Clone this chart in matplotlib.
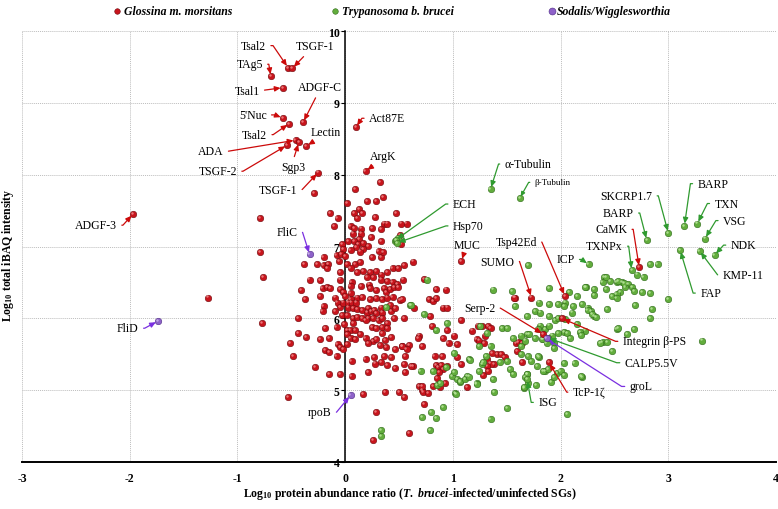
import math
import matplotlib
matplotlib.use("Agg")
import matplotlib.pyplot as plt
from matplotlib.lines import Line2D
from matplotlib.transforms import ScaledTranslation

plt.rcParams['font.family'] = ['Liberation Serif', 'DejaVu Serif']
plt.rcParams['axes.unicode_minus'] = False
plt.rcParams['mathtext.fontset'] = 'custom'
plt.rcParams['mathtext.rm'] = 'Liberation Serif:bold'
plt.rcParams['mathtext.it'] = 'Liberation Serif:italic:bold'
plt.rcParams['mathtext.bf'] = 'Liberation Serif:bold'

# Glossina m. morsitans proteins (log10 ratio, log10 iBAQ)
gm_pts = [
    (-0.29, 7.75), (-0.79, 7.40), (-0.79, 6.92), (0.09, 7.80), (0.32, 7.90), (0.02, 7.61),
    (0.35, 7.69), (0.20, 7.63), (0.29, 7.63), (-0.14, 7.46), (-0.07, 7.40), (0.13, 7.52),
    (0.08, 7.46), (0.16, 7.46), (0.11, 7.39), (0.28, 7.41), (0.47, 7.47), (0.36, 7.32),
    (0.39, 7.32), (0.52, 7.32), (0.57, 7.32), (-0.10, 7.28), (0.05, 7.29), (0.08, 7.26),
    (0.15, 7.25), (0.25, 7.26), (0.33, 7.24), (0.07, 7.18), (0.15, 7.18), (0.24, 7.13),
    (0.33, 7.08), (0.51, 7.16), (0.13, 7.10), (-0.03, 7.04), (0.03, 7.07), (0.08, 7.07),
    (0.12, 7.03), (0.17, 7.05), (0.21, 7.01), (0.10, 6.99), (0.17, 6.96), (0.05, 6.95),
    (0.14, 6.93), (-0.02, 6.96), (-0.08, 6.88), (-0.04, 6.90), (0.00, 6.87), (-0.06, 6.80),
    (-0.20, 6.85), (-0.38, 6.76), (-0.26, 6.75), (-0.20, 6.74), (-0.16, 6.75), (-0.17, 6.70),
    (-0.33, 6.54), (-0.23, 6.53), (-0.05, 6.64), (-0.05, 6.54), (0.02, 6.76), (0.09, 6.75),
    (0.14, 6.78), (0.05, 6.70), (0.11, 6.64), (0.17, 6.66), (0.23, 6.65), (0.29, 6.66),
    (0.33, 6.61), (0.39, 6.64), (0.44, 6.70), (0.49, 6.70), (0.25, 6.85), (0.33, 6.85),
    (0.35, 6.92), (0.31, 6.94), (0.20, 6.58), (0.26, 6.57), (0.33, 6.54), (0.39, 6.52),
    (0.44, 6.51), (0.48, 6.48), (0.06, 6.51), (0.05, 6.45), (0.15, 6.45), (0.22, 6.47),
    (-0.41, 6.39), (-0.37, 6.27), (-0.21, 6.42), (-0.17, 6.43), (-0.14, 6.42), (-0.05, 6.41),
    (-0.02, 6.36), (0.05, 6.35), (0.23, 6.42), (0.29, 6.39), (0.36, 6.42), (0.38, 6.37),
    (0.42, 6.41), (0.45, 6.44), (0.49, 6.44), (-0.23, 6.31), (-0.09, 6.29), (0.00, 6.31),
    (0.05, 6.27), (0.11, 6.29), (0.16, 6.30), (0.23, 6.27), (0.29, 6.28), (0.34, 6.27),
    (0.39, 6.29), (0.44, 6.30), (0.51, 6.25), (-0.20, 6.17), (-0.07, 6.22), (-0.05, 6.16),
    (-0.02, 6.22), (0.03, 6.22), (0.06, 6.22), (0.10, 6.22), (0.03, 6.15), (0.07, 6.14),
    (0.11, 6.13), (0.16, 6.11), (0.21, 6.14), (0.20, 6.08), (0.24, 6.10), (0.27, 6.11),
    (0.29, 6.07), (0.33, 6.15), (0.34, 6.08), (0.42, 6.19), (0.43, 6.10), (0.46, 6.14),
    (-0.21, 6.10), (-0.09, 6.10), (-0.03, 6.05), (0.02, 6.04), (0.07, 6.01), (0.11, 6.02),
    (0.16, 6.01), (0.21, 6.01), (0.26, 6.00), (0.19, 5.98), (0.31, 5.97), (0.34, 6.01),
    (0.39, 5.93), (0.45, 6.01), (0.55, 6.01), (-0.44, 6.01), (-0.19, 5.87), (-0.08, 5.88),
    (-0.01, 5.92), (0.02, 5.84), (0.05, 5.84), (0.09, 5.84), (0.07, 5.93), (0.25, 5.88),
    (0.29, 5.87), (0.34, 5.88), (0.39, 5.87), (0.34, 5.79), (-0.44, 5.80), (-0.36, 5.74),
    (-0.23, 5.71), (-0.15, 5.73), (0.02, 5.78), (0.14, 5.78), (0.05, 5.73), (0.09, 5.71),
    (0.19, 5.73), (0.26, 5.68), (0.29, 5.71), (0.43, 5.74), (0.37, 5.70), (-0.51, 5.65),
    (-0.07, 5.64), (-0.05, 5.60), (-0.02, 5.57), (0.02, 5.64), (0.21, 5.65), (0.32, 5.63),
    (0.38, 5.60), (0.46, 5.57), (0.53, 5.62), (0.59, 5.63), (-0.19, 5.56), (-0.15, 5.53),
    (-0.08, 5.48), (-0.48, 5.48), (0.06, 5.41), (0.19, 5.43), (0.27, 5.46), (0.36, 5.47),
    (0.43, 5.46), (0.28, 5.37), (0.33, 5.39), (0.39, 5.35), (0.46, 5.31), (0.55, 5.36),
    (-0.28, 5.32), (-0.15, 5.23), (-0.05, 5.23), (0.06, 5.20), (0.21, 5.25), (0.56, 5.25),
    (-1.27, 6.29), (-0.76, 6.58), (-0.77, 5.94), (-0.53, 4.91), (0.17, 4.95), (0.37, 4.97),
    (0.50, 4.97), (0.55, 4.91), (0.29, 4.69), (0.26, 4.30), (0.59, 4.40), (0.73, 4.81),
    (0.69, 5.06), (0.71, 5.00), (0.72, 4.97), (0.77, 4.96), (0.93, 5.10), (1.13, 5.04),
    (1.28, 5.21), (0.52, 7.03), (0.63, 6.79), (0.54, 6.54), (0.73, 6.55), (0.84, 6.41),
    (0.94, 6.40), (0.78, 6.27), (0.82, 6.24), (0.91, 6.15), (0.95, 6.15), (0.79, 6.03),
    (1.08, 5.97), (0.81, 5.89), (0.95, 5.84), (1.01, 5.76), (0.91, 5.73), (0.96, 5.66),
    (1.04, 5.64), (0.69, 5.76), (0.68, 5.72), (0.71, 5.62), (0.83, 5.47), (0.90, 5.48),
    (1.04, 5.46), (0.95, 5.34), (0.84, 5.35), (0.86, 5.32), (0.89, 5.35), (0.91, 5.29),
    (0.63, 5.34), (1.08, 5.36), (1.22, 5.71), (1.18, 5.83), (1.30, 5.76), (1.33, 5.89),
    (1.38, 5.36), (0.55, 6.74), (0.53, 6.27), (0.84, 6.28), (0.64, 6.15), (1.58, 6.29),
    (1.23, 5.90), (1.59, 5.66), (0.57, 5.57), (0.53, 5.61), (1.41, 5.50), (0.56, 5.48),
    (1.32, 5.43), (0.61, 5.34), (1.35, 5.37), (1.64, 5.39), (0.85, 5.17), (0.88, 5.04),
    (0.82, 5.06), (0.71, 5.06), (0.87, 5.25), (1.27, 5.90), (1.35, 5.87), (1.24, 5.69),
    (1.29, 5.66), (1.36, 5.52), (1.32, 5.34), (1.33, 5.27), (1.45, 5.50), (1.48, 5.46),
    (1.61, 5.67), (1.60, 5.55), (1.57, 6.29), (1.64, 5.66),
]

# Trypanosoma b. brucei proteins
tb_pts = [
    (0.38, 6.16), (0.60, 6.19), (0.33, 4.45), (0.33, 4.36), (0.71, 4.62), (0.84, 4.61),
    (0.80, 4.70), (0.79, 4.44), (0.91, 4.76), (0.70, 5.27), (0.82, 5.27), (0.85, 5.07),
    (0.88, 5.10), (1.02, 4.96), (1.35, 4.60), (1.38, 4.97), (1.22, 5.10), (0.76, 6.54),
    (1.37, 6.40), (0.73, 6.06), (0.95, 5.94), (0.84, 5.84), (1.01, 5.52), (0.94, 5.32),
    (1.15, 5.43), (1.25, 5.89), (1.32, 5.80), (1.24, 5.62), (1.31, 5.48), (1.35, 5.61),
    (1.27, 5.36), (1.37, 5.15), (1.13, 5.20), (1.07, 5.11), (1.04, 5.15), (0.99, 5.20),
    (1.55, 6.38), (1.58, 6.17), (1.46, 5.86), (1.50, 5.87), (1.56, 5.73), (1.63, 5.62),
    (1.67, 5.69), (1.69, 5.78), (0.61, 6.18), (1.16, 5.42), (1.01, 5.25), (1.28, 5.39),
    (1.44, 5.39), (1.50, 5.40), (1.53, 5.29), (1.24, 5.27), (1.56, 5.22), (1.69, 5.22),
    (1.70, 5.10), (1.07, 5.13), (1.11, 5.15), (1.15, 5.19), (1.03, 4.95), (1.22, 5.09),
    (1.66, 5.03), (1.50, 4.75), (1.70, 6.74), (2.83, 6.75), (2.90, 6.75), (2.71, 6.61),
    (2.77, 6.57), (2.40, 6.57), (2.39, 6.51), (2.46, 6.52), (2.52, 6.50), (2.57, 6.50),
    (2.63, 6.48), (2.66, 6.44), (2.60, 6.43), (2.68, 6.38), (2.55, 6.36), (2.48, 6.31),
    (2.52, 6.34), (2.76, 6.36), (2.83, 6.35), (3.00, 6.27), (2.15, 6.31), (2.08, 6.36),
    (2.24, 6.43), (2.31, 6.41), (2.42, 6.41), (2.20, 6.20), (2.25, 6.15), (2.28, 6.10),
    (2.31, 6.03), (2.69, 6.18), (2.83, 6.00), (1.89, 6.42), (1.76, 6.10), (1.81, 6.08),
    (1.89, 6.20), (1.69, 6.03), (1.98, 6.20), (2.04, 6.22), (2.12, 6.17), (1.95, 5.98),
    (1.98, 6.00), (2.04, 5.99), (1.89, 6.03), (1.81, 5.90), (1.79, 5.85), (1.86, 5.85),
    (1.89, 5.90), (1.87, 5.66), (1.84, 5.71), (1.98, 5.80), (2.03, 5.81), (2.06, 5.80),
    (1.94, 5.66), (2.23, 5.83), (2.39, 5.67), (2.43, 5.67), (2.48, 5.55), (2.52, 5.85),
    (2.62, 5.78), (3.31, 5.69), (2.15, 5.92), (1.71, 5.78), (1.80, 5.46), (1.73, 5.41),
    (2.03, 5.38), (2.13, 5.38), (1.97, 5.24), (2.20, 5.18), (1.91, 5.11), (1.86, 5.27),
    (2.06, 4.67), (1.63, 5.76), (1.63, 5.50), (1.80, 6.22), (2.23, 6.43), (2.31, 6.32),
    (2.42, 6.58), (2.53, 6.52), (2.59, 6.49), (2.52, 6.28), (2.11, 6.08), (2.25, 6.12),
    (2.29, 6.06), (2.33, 6.02), (2.43, 6.13), (2.68, 5.85), (2.85, 6.13), (2.53, 5.87),
    (2.03, 6.17), (1.76, 5.73), (1.83, 5.71), (1.92, 5.76), (2.09, 5.73), (2.18, 5.81),
    (2.19, 5.77), (2.37, 5.66), (1.94, 5.59), (1.70, 5.48), (1.79, 5.47), (1.78, 5.34),
    (1.84, 5.26), (1.88, 5.29), (1.94, 5.18), (2.00, 5.27), (2.19, 5.20), (2.03, 5.21),
    (1.67, 5.18), (1.69, 5.22), (1.66, 5.04), (1.77, 5.07), (0.49, 7.12), (0.46, 7.07),
]

# labelled proteins: name, source, x, y
lab_names = ['Tsal2', 'TSGF-1', 'TAg5', 'Tsal1', "5'Nuc", 'Tsal2', 'ADGF-C', 'Lectin',
             'ADA', 'TSGF-2', 'Sgp3', 'TSGF-1', 'Act87E', 'ArgK', 'ADGF-3', 'FliC', 'FliD',
             'rpoB', 'groL', 'TcP-1ζ', 'ISG', 'CALP5.5V', 'Integrin β-PS', 'Serp-2', 'SUMO',
             'Tsp42Ed', 'ICP', 'MUC', 'ECH', 'Hsp70', 'α-Tubulin', 'β-Tubulin', 'SKCRP1.7',
             'BARP', 'CaMK', 'TXNPx', 'BARP', 'TXN', 'VSG', 'NDK', 'KMP-11', 'FAP']
lab_src = ['gm', 'gm', 'gm', 'gm', 'gm', 'gm', 'gm', 'gm', 'gm', 'gm', 'gm', 'gm', 'gm', 'gm',
           'gm', 'sw', 'sw', 'sw', 'sw', 'gm', 'tb', 'tb', 'gm', 'gm', 'gm', 'gm', 'tb', 'gm',
           'tb', 'tb', 'tb', 'tb', 'tb', 'tb', 'gm', 'tb', 'tb', 'tb', 'tb', 'tb', 'tb', 'tb']
lab_x = [-0.53, -0.49, -0.69, -0.58, -0.58, -0.52, -0.39, -0.36, -0.46, -0.54, -0.43, -0.25,
         0.10, 0.19, -1.97, -0.33, -1.74, 0.05, 1.87, 1.89, 1.69, 1.88, 2.01, 1.84, 1.73,
         2.04, 2.26, 1.08, 0.47, 0.48, 1.35, 1.62, 3.00, 2.80, 2.73, 2.66, 3.15, 3.27, 3.34,
         3.43, 3.29, 3.11]
lab_y = [9.49, 9.48, 9.37, 9.21, 8.79, 8.71, 8.73, 8.40, 8.48, 8.41, 8.45, 8.03,
         8.66, 8.05, 7.45, 6.89, 5.96, 4.93, 5.72, 5.39, 5.15, 5.73, 6.00, 5.78, 6.29,
         6.31, 6.75, 6.80, 7.09, 7.05, 7.80, 7.67, 7.19, 7.09, 6.71, 6.67, 7.29, 7.32, 7.11,
         6.88, 6.94, 6.95]

# label layout: offset of text anchor from point (pixels), alignment, stub length, arrow origin
lab_place = [
    (-22, 22, 'right', 7, None), (23, 22, 'center', 0, (0.3, 0)), (-8, 12, 'right', 6, None),
    (-23, -3, 'right', 0, (1, 0.5)), (-16, 3, 'right', 8, None), (-22, -11, 'right', 6, None),
    (17, 35, 'center', 0, (0.45, 0)), (19, 14, 'center', 0, (0.3, 0)), (-72, -11, 'right', 5, None),
    (-50, -26, 'right', 6, None), (-6, -25, 'center', 0, (0.5, 1)), (-21, -17, 'right', 5, None),
    (13, 9, 'left', 7, None), (18, 15, 'center', 0, (0.3, 0)), (-16, -11, 'right', 6, None),
    (-12, 22, 'right', 5, None), (-19, -7, 'right', 6, None), (-19, -17, 'right', 5, None),
    (83, -48, 'left', 8, None), (24, -30, 'left', 6, None), (11, -23, 'left', 7, None),
    (77, -25, 'left', 8, None), (61, -23, 'left', 7, None), (-48, 26, 'right', 5, None),
    (-17, 36, 'right', 5, None), (-28, 54, 'right', 5, None), (-14, 5, 'right', 7, None),
    (6, 16, 'center', 0, (0.4, 0)), (57, 36, 'left', 7, None), (56, 17, 'left', 7, None),
    (14, 25, 'left', 6, None), (15, 16, 'left', 6, None), (-16, 37, 'right', 6, None),
    (-13, 27, 'right', 6, None), (-12, 38, 'right', 6, None), (-9, 24, 'right', 6, None),
    (13, 42, 'left', 7, None), (17, 20, 'left', 7, None), (18, 18, 'left', 7, None),
    (16, 10, 'left', 7, None), (23, -24, 'left', 5, None), (20, -43, 'left', 7, None),
]

legend_names = {'gm': 'Glossina m. morsitans', 'tb': 'Trypanosoma b. brucei',
                'sw': 'Sodalis/Wigglesworthia'}
face = {'gm': '#c8141c', 'tb': '#62ad3c', 'sw': '#8e62c9'}
edge = {'gm': '#6e0b0f', 'tb': '#2f6a1b', 'sw': '#4e2a85'}
shine = {'gm': '#f29090', 'tb': '#c2eaa6', 'sw': '#d2bdf0'}
arrow_col = {'gm': '#cc0a0a', 'tb': '#2f9a2f', 'sw': '#7a2fe0'}

fig = plt.figure(figsize=(7.78, 5.10), dpi=100)
ax = fig.add_axes([22 / 778, 47 / 510, 754 / 778, 431 / 510])
ax.set_xlim(-3, 4)
ax.set_ylim(4, 10)

ax.grid(True, color='#bdbdbd', linestyle=(0, (1, 1)), linewidth=0.7)
ax.set_axisbelow(True)
for s in ('top', 'right'):
    ax.spines[s].set_visible(False)
ax.spines['left'].set_position(('data', 0))
ax.spines['left'].set_linewidth(1.1)
ax.spines['bottom'].set_linewidth(1.4)
ax.set_xticks(range(-3, 5))
ax.set_yticks(range(4, 11))
ax.tick_params(axis='x', length=0, pad=7, labelsize=8.5)
ax.tick_params(axis='y', length=3, width=0.8, pad=1, labelsize=8.5)
for t in ax.get_xticklabels() + ax.get_yticklabels():
    t.set_fontweight('bold')

shift = ScaledTranslation(-0.8 / 72, 0.8 / 72, fig.dpi_scale_trans)


def balls(xs, ys, g, z=3):
    ax.scatter(xs, ys, s=22, c=face[g], edgecolors=edge[g], linewidths=0.4, zorder=z)
    ax.scatter(xs, ys, s=3, c=shine[g], linewidths=0, alpha=0.8, zorder=z,
               transform=ax.transData + shift)


balls([p[0] for p in gm_pts], [p[1] for p in gm_pts], 'gm')
balls([p[0] for p in tb_pts], [p[1] for p in tb_pts], 'tb')
for g in ('gm', 'tb', 'sw'):
    xs = [x for x, s in zip(lab_x, lab_src) if s == g]
    ys = [y for y, s in zip(lab_y, lab_src) if s == g]
    balls(xs, ys, g, z=4)

for name, g, x, y, (dx, dy, ha, stub, rel) in zip(lab_names, lab_src, lab_x, lab_y, lab_place):
    if stub:
        cx = dx + stub if ha == 'right' else dx - stub
        ang = math.degrees(math.atan2(dy, cx))
        cs = f'angle,angleA=0,angleB={ang:.1f},rad=0'
        rel = (1, 0.5) if ha == 'right' else (0, 0.5)
    else:
        cs = 'arc3,rad=0'
    fs = 6.5 if name == 'β-Tubulin' else 8.5
    ax.annotate(name, xy=(x, y), xytext=(dx, dy), textcoords='offset pixels',
                ha=ha, va='center', fontsize=fs, zorder=6,
                arrowprops=dict(arrowstyle='-|>,head_length=0.4,head_width=0.18',
                                color=arrow_col[g], lw=0.9, shrinkA=1.5, shrinkB=1.5,
                                relpos=rel, connectionstyle=cs))

# legend along the top
for g, mx, tx in (('gm', 117, 124), ('tb', 335, 342), ('sw', 552, 557)):
    ms = 5 if g == 'sw' else 4
    fig.add_artist(Line2D([mx / 778], [1 - 12 / 510], marker='o', markersize=ms,
                          color=face[g], markeredgecolor=edge[g], markeredgewidth=0.4,
                          linestyle='none', transform=fig.transFigure))
    fig.text(tx / 778, 1 - 12 / 510, legend_names[g], fontsize=8.5, fontweight='bold',
             fontstyle='italic', va='center', ha='left')

fig.text(8 / 778, 1 - 255 / 510, r'Log$_{10}$ total iBAQ intensity', rotation=90,
         fontsize=8.5, fontweight='bold', ha='center', va='center')
fig.text(410 / 778, 1 - 494 / 510,
         r'Log$_{10}$ protein abundance ratio ($T.\ brucei$-infected/uninfected SGs)',
         fontsize=8.5, fontweight='bold', ha='center', va='center')

fig.savefig('out.png', dpi=100)
